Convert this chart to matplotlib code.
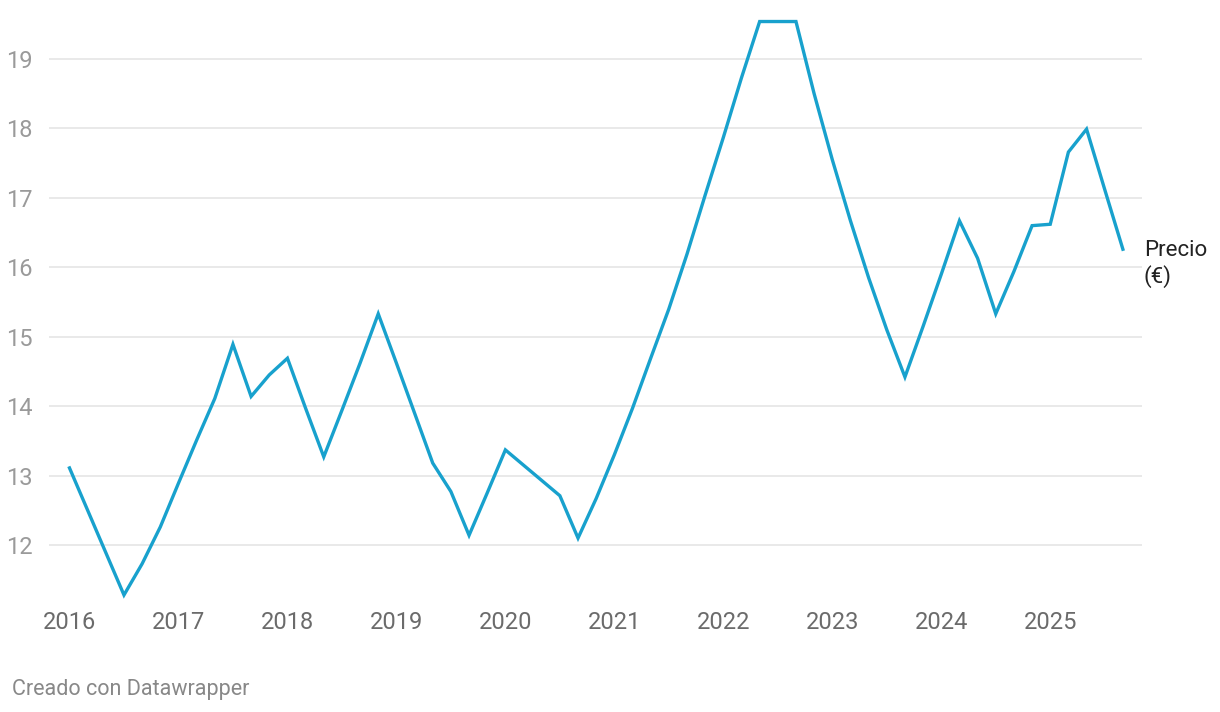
import matplotlib
matplotlib.use("Agg")
import matplotlib.pyplot as plt
import numpy as np

plt.rcParams['font.family'] = ['Roboto', 'DejaVu Sans']

# bimonthly prices, months counted from Jan 2016
months = list(range(0, 117, 2))
precio = [13.11, 12.50, 11.89, 11.28, 11.73, 12.26, 12.89, 13.51, 14.11, 14.89,
          14.14, 14.45, 14.69, 13.97, 13.27, 13.94, 14.62, 15.33, 14.62, 13.90,
          13.18, 12.77, 12.14, 12.75, 13.37, 13.15, 12.93, 12.71, 12.10, 12.67,
          13.30, 13.97, 14.69, 15.40, 16.19, 17.04, 17.87, 18.73, 19.54, 19.54,
          19.54, 18.50, 17.55, 16.67, 15.85, 15.10, 14.42, 15.15, 15.90, 16.67,
          16.13, 15.33, 15.94, 16.60, 16.62, 17.66, 17.99, 17.12, 16.26]
years = [2016 + m / 12 for m in months]

yticks = [12, 13, 14, 15, 16, 17, 18, 19]
xticks = list(range(2016, 2026))

W, H = 1220, 712
fig = plt.figure(figsize=(W / 100, H / 100), dpi=100)
left, right, top, bottom = 49, 1142, 10, 600
ax = fig.add_axes([left / W, 1 - bottom / H, (right - left) / W, (bottom - top) / H])

ax.plot(years, precio, color='#18a1cd', lw=2.4, solid_joinstyle='miter', zorder=3)

ax.set_xlim(2015.812, 2025.842)
ax.set_ylim(11.208, 19.706)
ax.set_yticks(yticks)
ax.set_yticklabels([str(t) for t in yticks])
ax.set_xticks(xticks)
ax.set_xticklabels([str(t) for t in xticks])
ax.grid(axis='y', color='#e5e5e5', lw=1.2)
ax.tick_params(axis='y', length=0, pad=12, labelsize=17, labelcolor='#9a9a9a')
ax.tick_params(axis='x', length=0, pad=8, labelsize=17, labelcolor='#6b6b6b')
for s in ax.spines.values():
    s.set_visible(False)

ax.annotate('Precio\n(€)', xy=(years[-1], precio[-1]), xytext=(21, -15),
            textcoords='offset pixels', ha='left', va='center', fontsize=16,
            color='#222222', linespacing=1.2, annotation_clip=False)

fig.text(12 / W, 1 - 689 / H, 'Creado con Datawrapper', fontsize=15.5,
         color='#888888', ha='left', va='center')

fig.savefig('out.png', dpi=100)
